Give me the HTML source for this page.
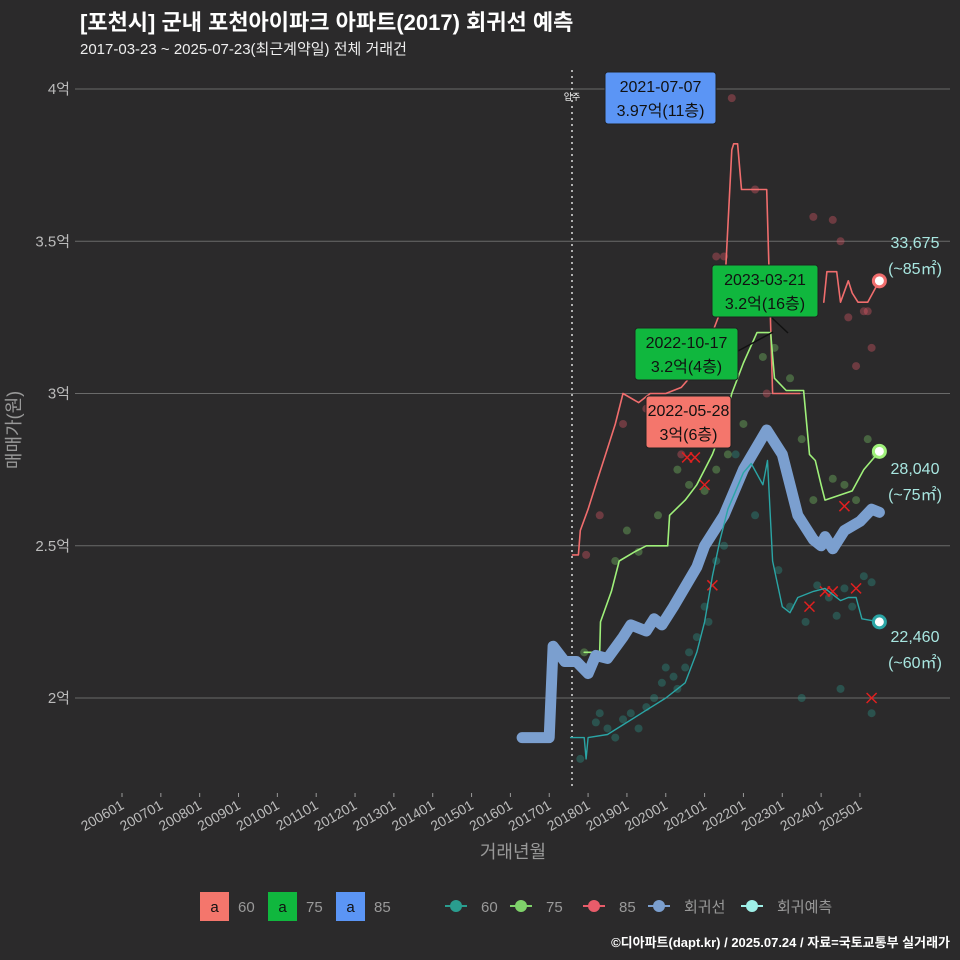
<!DOCTYPE html>
<html><head><meta charset="utf-8">
<style>
html,body{margin:0;padding:0;background:#2b2a2b;}
svg{display:block;font-family:"Liberation Sans","Noto Sans CJK KR",sans-serif;}
</style></head>
<body>
<svg id="chart" width="960" height="960" viewBox="0 0 960 960">
<rect x="0" y="0" width="960" height="960" fill="#2b2a2b"/>
<text x="80" y="30" fill="#ffffff" font-size="22" font-weight="bold">[포천시] 군내 포천아이파크 아파트(2017) 회귀선 예측</text>
<text x="80" y="54" fill="#eeeeee" font-size="15">2017-03-23 ~ 2025-07-23(최근계약일) 전체 거래건</text>
<g id="grid"></g>
<g id="yaxis"></g>
<g id="xaxis"></g>
<line x1="572" y1="70" x2="572" y2="790" stroke="#dddddd" stroke-width="1.5" stroke-dasharray="2,4"/>
<text x="572" y="100" fill="#ffffff" font-size="9" text-anchor="middle">입주</text>
<g id="points"></g>
<g id="lines"></g>
<g id="ends"></g>
<g id="labels"></g>
<text x="20" y="430" fill="#999999" font-size="18" text-anchor="middle" transform="rotate(-90 20 430)">매매가(원)</text>
<text x="513" y="858" fill="#999999" font-size="18" text-anchor="middle">거래년월</text>
<g id="legend"></g>
<text x="950" y="947" fill="#ffffff" font-size="13" font-weight="bold" text-anchor="end">©디아파트(dapt.kr) / 2025.07.24 / 자료=국토교통부 실거래가</text>
</svg>
<script>
const yTicks=[2,2.5,3,3.5,4];
const yTickLabels=["2억","2.5억","3억","3.5억","4억"];
const xTickYears=[2006,2007,2008,2009,2010,2011,2012,2013,2014,2015,2016,2017,2018,2019,2020,2021,2022,2023,2024,2025];
const line60T=[2017.55,2017.9,2017.95,2018.0,2018.5,2019.0,2019.5,2020.0,2020.3,2020.5,2020.8,2021.0,2021.2,2021.4,2021.6,2022.0,2022.2,2022.5,2022.62,2022.75,2023.0,2023.2,2023.4,2023.8,2024.1,2024.5,2024.7,2024.9,2025.05,2025.5];
const line60V=[1.87,1.87,1.8,1.87,1.88,1.92,1.96,2.0,2.03,2.05,2.15,2.25,2.4,2.52,2.62,2.74,2.77,2.7,2.78,2.45,2.3,2.28,2.33,2.35,2.36,2.32,2.33,2.33,2.26,2.25];
const line75T=[2017.9,2018.3,2018.32,2018.6,2018.8,2019.2,2019.5,2019.8,2020.05,2020.1,2020.5,2020.8,2021.0,2021.2,2021.5,2021.7,2022.0,2022.35,2022.7,2022.8,2023.1,2023.55,2023.7,2023.85,2024.0,2024.1,2024.8,2025.1,2025.5];
const line75V=[2.15,2.15,2.25,2.35,2.45,2.48,2.5,2.5,2.5,2.6,2.65,2.7,2.75,2.8,2.9,3.0,3.1,3.2,3.2,3.05,3.01,3.01,2.8,2.78,2.7,2.65,2.68,2.75,2.81];
const line85T=[2017.6,2017.75,2017.8,2018.0,2018.2,2018.45,2018.7,2018.9,2019.3,2019.6,2020.0,2020.4,2020.6,2020.9,2021.2,2021.5,2021.7,2021.75,2021.85,2021.95,2022.6,2022.75,2023.45];
const line85V=[2.47,2.47,2.55,2.62,2.7,2.8,2.9,3.0,2.97,3.0,3.0,3.02,3.05,3.1,3.2,3.3,3.8,3.82,3.82,3.67,3.67,3.0,3.0];
const line85bT=[2024.07,2024.15,2024.4,2024.5,2024.7,2024.8,2024.95,2025.2,2025.5];
const line85bV=[3.3,3.4,3.4,3.3,3.37,3.33,3.3,3.3,3.37];
const regT=[2016.3,2017.0,2017.1,2017.4,2017.7,2018.0,2018.2,2018.5,2018.9,2019.1,2019.5,2019.7,2019.9,2020.2,2020.8,2021.0,2021.5,2022.0,2022.6,2023.0,2023.4,2023.8,2024.0,2024.1,2024.3,2024.6,2025.0,2025.3,2025.5];
const regV=[1.87,1.87,2.17,2.12,2.12,2.08,2.14,2.13,2.2,2.24,2.22,2.26,2.24,2.3,2.43,2.5,2.6,2.75,2.88,2.8,2.6,2.52,2.5,2.53,2.49,2.55,2.58,2.62,2.61];
const pts60T=[2017.8,2018.2,2018.3,2018.5,2018.7,2018.9,2019.1,2019.3,2019.5,2019.7,2019.9,2020.0,2020.2,2020.3,2020.5,2020.6,2020.8,2021.0,2021.1,2021.3,2021.5,2021.8,2022.3,2022.9,2023.2,2023.6,2023.9,2024.2,2024.4,2024.6,2024.8,2025.1,2025.3,2023.5,2024.5,2025.3];
const pts60V=[1.8,1.92,1.95,1.9,1.87,1.93,1.95,1.9,1.97,2.0,2.05,2.1,2.07,2.03,2.1,2.15,2.2,2.3,2.25,2.45,2.5,2.8,2.6,2.42,2.3,2.25,2.37,2.33,2.27,2.36,2.3,2.4,2.38,2.0,2.03,1.95];
const pts75T=[2017.9,2018.7,2019.0,2019.3,2019.8,2020.3,2020.6,2021.0,2021.3,2021.6,2022.0,2022.5,2022.8,2023.2,2023.5,2023.8,2024.3,2024.6,2024.9,2025.2,2025.4];
const pts75V=[2.15,2.45,2.55,2.48,2.6,2.75,2.7,2.68,2.75,2.8,2.9,3.12,3.15,3.05,2.85,2.65,2.72,2.7,2.65,2.85,2.8];
const pts85T=[2017.95,2018.3,2018.9,2019.5,2020.4,2021.3,2021.5,2022.3,2022.6,2023.8,2024.3,2024.5,2024.7,2024.9,2025.1,2025.3,2021.7,2025.2];
const pts85V=[2.47,2.6,2.9,2.95,2.8,3.45,3.45,3.67,3.0,3.58,3.57,3.5,3.25,3.09,3.27,3.15,3.97,3.27];
const crossT=[2020.55,2020.75,2021.0,2021.2,2023.7,2024.1,2024.3,2024.6,2024.9,2025.3];
const crossV=[2.79,2.79,2.7,2.37,2.3,2.35,2.35,2.63,2.36,2.0];

const NS="http://www.w3.org/2000/svg";
const X=t=>122+(t-2006)*38.84;
const Y=v=>698-(v-2)*304.5;
function mk(parent,tag,attrs){const e=document.createElementNS(NS,tag);for(const k in attrs)e.setAttribute(k,attrs[k]);document.getElementById(parent).appendChild(e);return e;}

yTicks.forEach((v,i)=>{
  const g=mk('grid','line',{x1:75,x2:950,y1:Y(v),y2:Y(v),stroke:'#6a6a6a','stroke-width':1});
  
  
  const t=mk('yaxis','text',{x:70,y:Y(v)+5,fill:'#bbbbbb','font-size':15,'text-anchor':'end'});
  t.textContent=yTickLabels[i];
  
  
});
xTickYears.forEach(yr=>{
  const x=X(yr);
  const tk=mk('xaxis','line',{x1:x,x2:x,y1:793,y2:797,stroke:'#999','stroke-width':1});
  
  
  const t=mk('xaxis','text',{x:x+3,y:808,fill:'#bbbbbb','font-size':14,'text-anchor':'end',transform:`rotate(-30 ${x+3} 808)`});
  t.textContent=yr+'01';
  
  
});
function pts(T,V,col,name){T.forEach((t,i)=>{const c=mk('points','circle',{cx:X(t),cy:Y(V[i]),r:4,fill:col,'fill-opacity':0.35});
  
  });}
pts(pts60T,pts60V,'#2a9d8f','point-60');
pts(pts75T,pts75V,'#7fd26a','point-75');
pts(pts85T,pts85V,'#e85c6a','point-85');
crossT.forEach((t,i)=>{const x=X(t),y=Y(crossV[i]);
  const p=mk('points','path',{d:`M${x-5} ${y-5}L${x+5} ${y+5}M${x-5} ${y+5}L${x+5} ${y-5}`,stroke:'#e02020','stroke-width':1.5});
  
  });
function step(T,V){let d='';T.forEach((t,i)=>{d+=(i?'L':'M')+X(t).toFixed(1)+' '+Y(V[i]).toFixed(1);});return d;}
function line(T,V,col,w,name){const p=mk('lines','path',{d:step(T,V),stroke:col,'stroke-width':w,fill:'none','stroke-linejoin':'round','stroke-linecap':'round'});
  
  }
line(line85T,line85V,'#f06d6d',1.6,'line-85');
line(line85bT,line85bV,'#f06d6d',1.6,'line-85-recent');
line(line75T,line75V,'#9ff07a',1.6,'line-75');
line(regT,regV,'#7b9fcf',11,'regression-line');
line(line60T,line60V,'#2aa5a5',1.4,'line-60');
[[line85bV,'#f06d6d','end-85'],[line75V,'#9ff07a','end-75'],[line60V,'#2aa5a5','end-60']].forEach(a=>{
  const v=a[0][a[0].length-1];
  const c=mk('ends','circle',{cx:X(2025.5),cy:Y(v),r:6,fill:'#ffffff',stroke:a[1],'stroke-width':3});
  
  });
function box(x,y,w,h,col,l1,l2,name){
  const r=mk('labels','rect',{x:x,y:y,width:w,height:h,rx:3,fill:col,stroke:'#222','stroke-width':1});
  
  
  const t1=mk('labels','text',{x:x+w/2,y:y+20,'font-size':16,'text-anchor':'middle',fill:'#111'});t1.textContent=l1;
  
  
  const t2=mk('labels','text',{x:x+w/2,y:y+44,'font-size':16,'text-anchor':'middle',fill:'#111'});t2.textContent=l2;
  
  
}
const l1=mk('labels','path',{d:'M738 351L773 332M772 318L788 333',stroke:'#111','stroke-width':1.5,fill:'none'});


box(605,72,111,52,'#5b95f5','2021-07-07','3.97억(11층)','annotation-max-85');
box(712,265,106,52,'#10b73e','2023-03-21','3.2억(16층)','annotation-2023');
box(635,328,103,52,'#10b73e','2022-10-17','3.2억(4층)','annotation-2022-10');
box(646,396,85,52,'#f4766c','2022-05-28','3억(6층)','annotation-2022-05');
[['33,675',248],['(~85㎡)',274],['28,040',474],['(~75㎡)',500],['22,460',642],['(~60㎡)',668]].forEach(a=>{
  const t=mk('labels','text',{x:915,y:a[1],'font-size':16,'text-anchor':'middle',fill:'#a8e6e0'});t.textContent=a[0];
  
  });
[['#f4766c','60',200],['#10b73e','75',268],['#5b95f5','85',336]].forEach(a=>{
  const r=mk('legend','rect',{x:a[2],y:892,width:29,height:29,fill:a[0]});
  
  
  const t=mk('legend','text',{x:a[2]+14.5,y:912,'font-size':15,'text-anchor':'middle',fill:'#111'});t.textContent='a';
  
  
  const l=mk('legend','text',{x:a[2]+38,y:912,'font-size':15,fill:'#999'});l.textContent=a[1];
  
  });
[['#2a9d8f','60',456],['#7fd26a','75',521],['#e85c6a','85',594],['#7b9fcf','회귀선',659],['#9ff0e8','회귀예측',752]].forEach(a=>{
  const l=mk('legend','line',{x1:a[2]-11,x2:a[2]+11,y1:906,y2:906,stroke:a[0],'stroke-width':2});
  
  
  const c=mk('legend','circle',{cx:a[2],cy:906,r:6,fill:a[0]});
  
  
  const t=mk('legend','text',{x:a[2]+25,y:912,'font-size':15,fill:'#999'});t.textContent=a[1];
  
  });
</script>
</body></html>
